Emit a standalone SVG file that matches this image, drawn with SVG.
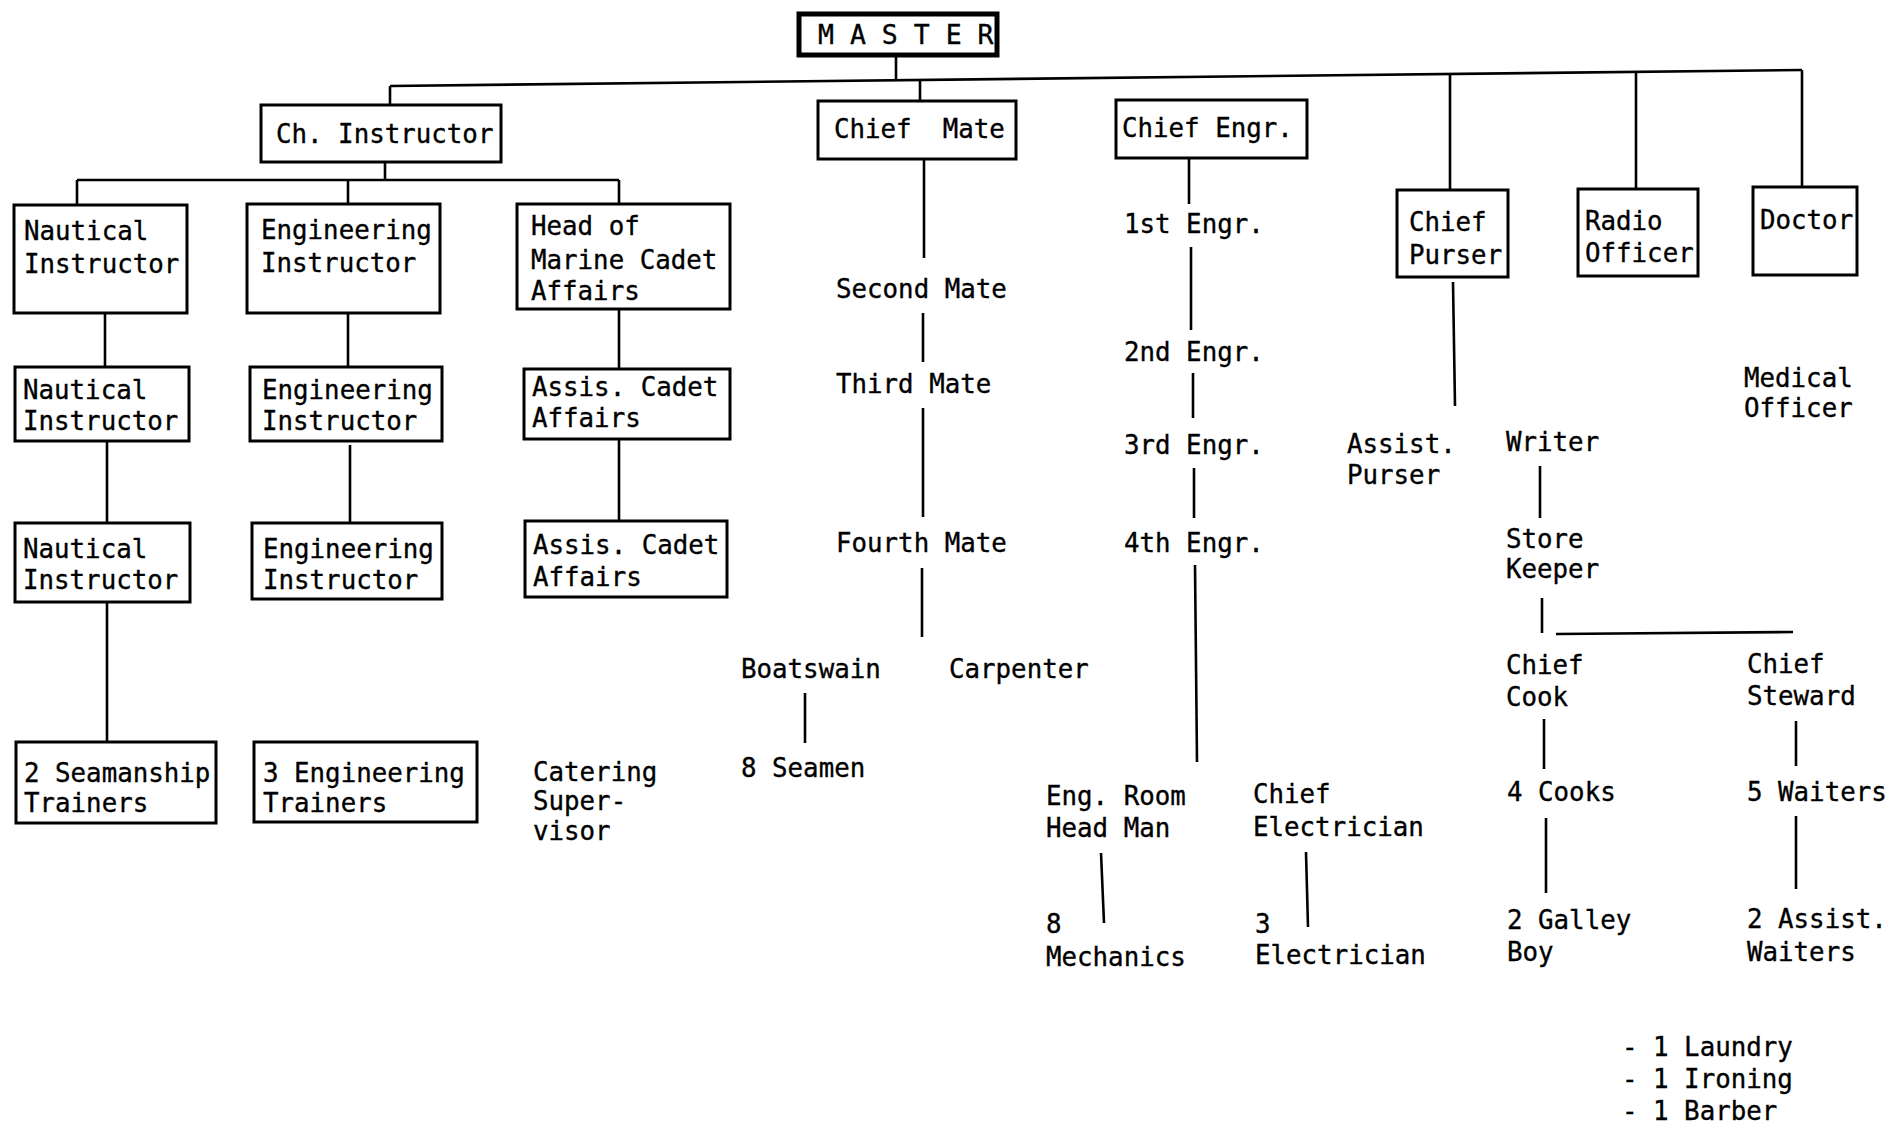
<svg xmlns="http://www.w3.org/2000/svg" width="1894" height="1125" viewBox="0 0 1894 1125">
<style>
text{font-family:"DejaVu Sans Mono","Liberation Mono",monospace;font-size:25.8px;fill:#000;stroke:#000;stroke-width:0.35}
.box{fill:none;stroke:#000;stroke-width:3}
.master{fill:none;stroke:#000;stroke-width:5}
.mt{font-size:26.5px}
#connectors line{stroke:#000;stroke-width:2.6;stroke-linecap:butt}
</style>
<rect width="1894" height="1125" fill="#fff"/>
<g id="connectors">
<line x1="390" y1="86" x2="1802" y2="70"/>
<line x1="390" y1="86" x2="390" y2="105"/>
<line x1="896" y1="57" x2="896" y2="80"/>
<line x1="920" y1="80" x2="920" y2="101"/>
<line x1="1450" y1="74" x2="1450" y2="190"/>
<line x1="1636" y1="72" x2="1636" y2="189"/>
<line x1="1802" y1="70" x2="1802" y2="187"/>
<line x1="385" y1="162" x2="385" y2="180"/>
<line x1="77" y1="180" x2="619" y2="180"/>
<line x1="77" y1="180" x2="77" y2="205"/>
<line x1="348" y1="180" x2="348" y2="204"/>
<line x1="619" y1="180" x2="619" y2="204"/>
<line x1="105" y1="313" x2="105" y2="367"/>
<line x1="348" y1="313" x2="348" y2="367"/>
<line x1="619" y1="309" x2="619" y2="369"/>
<line x1="107" y1="441" x2="107" y2="523"/>
<line x1="350" y1="445" x2="350" y2="523"/>
<line x1="619" y1="439" x2="619" y2="521"/>
<line x1="107" y1="602" x2="107" y2="742"/>
<line x1="924" y1="160" x2="924" y2="258"/>
<line x1="923" y1="313" x2="923" y2="362"/>
<line x1="923" y1="408" x2="923" y2="517"/>
<line x1="922" y1="568" x2="922" y2="637"/>
<line x1="805" y1="693" x2="805" y2="743"/>
<line x1="1189" y1="158" x2="1189" y2="204"/>
<line x1="1191" y1="247" x2="1191" y2="330"/>
<line x1="1193" y1="373" x2="1193" y2="418"/>
<line x1="1194" y1="468" x2="1194" y2="518"/>
<line x1="1195" y1="565" x2="1197" y2="762"/>
<line x1="1101" y1="853" x2="1104" y2="923"/>
<line x1="1306" y1="852" x2="1308" y2="927"/>
<line x1="1453" y1="282" x2="1455" y2="406"/>
<line x1="1540" y1="466" x2="1540" y2="518"/>
<line x1="1542" y1="598" x2="1542" y2="633"/>
<line x1="1556" y1="634" x2="1793" y2="632"/>
<line x1="1544" y1="719" x2="1544" y2="769"/>
<line x1="1546" y1="818" x2="1546" y2="893"/>
<line x1="1796" y1="721" x2="1796" y2="766"/>
<line x1="1796" y1="816" x2="1796" y2="889"/>
</g>
<g id="master"><rect class="master" x="799" y="14" width="198" height="41"/><text class="mt" x="818" y="44">M A S T E R</text></g>
<g id="ch-instructor"><rect class="box" x="261" y="105" width="240" height="57"/><text x="276" y="143">Ch. Instructor</text></g>
<g id="chief-mate"><rect class="box" x="818" y="101" width="198" height="58"/><text x="834" y="138" xml:space="preserve">Chief  Mate</text></g>
<g id="chief-engr"><rect class="box" x="1116" y="100" width="191" height="58"/><text x="1122" y="137">Chief Engr.</text></g>
<g id="chief-purser"><rect class="box" x="1397" y="190" width="111" height="87"/><text x="1409" y="231">Chief</text><text x="1409" y="264">Purser</text></g>
<g id="radio-officer"><rect class="box" x="1578" y="189" width="120" height="87"/><text x="1585" y="230">Radio</text><text x="1585" y="262">Officer</text></g>
<g id="doctor"><rect class="box" x="1753" y="187" width="104" height="88"/><text x="1760" y="229">Doctor</text></g>
<g id="nautical-1"><rect class="box" x="14" y="205" width="173" height="108"/><text x="24" y="240">Nautical</text><text x="24" y="273">Instructor</text></g>
<g id="engineering-1"><rect class="box" x="247" y="204" width="193" height="109"/><text x="261" y="239">Engineering</text><text x="261" y="272">Instructor</text></g>
<g id="head-cadet"><rect class="box" x="517" y="204" width="213" height="105"/><text x="531" y="235">Head of</text><text x="531" y="269">Marine Cadet</text><text x="531" y="300">Affairs</text></g>
<g id="nautical-2"><rect class="box" x="15" y="367" width="174" height="74"/><text x="23" y="399">Nautical</text><text x="23" y="430">Instructor</text></g>
<g id="engineering-2"><rect class="box" x="250" y="367" width="192" height="74"/><text x="262" y="399">Engineering</text><text x="262" y="430">Instructor</text></g>
<g id="assis-cadet-2"><rect class="box" x="524" y="369" width="206" height="70"/><text x="532" y="396">Assis. Cadet</text><text x="532" y="427">Affairs</text></g>
<g id="nautical-3"><rect class="box" x="15" y="523" width="175" height="79"/><text x="23" y="558">Nautical</text><text x="23" y="589">Instructor</text></g>
<g id="engineering-3"><rect class="box" x="252" y="523" width="190" height="76"/><text x="263" y="558">Engineering</text><text x="263" y="589">Instructor</text></g>
<g id="assis-cadet-3"><rect class="box" x="525" y="521" width="202" height="76"/><text x="533" y="554">Assis. Cadet</text><text x="533" y="586">Affairs</text></g>
<g id="seamanship-trainers"><rect class="box" x="16" y="742" width="200" height="81"/><text x="24" y="782">2 Seamanship</text><text x="24" y="812">Trainers</text></g>
<g id="engineering-trainers"><rect class="box" x="254" y="742" width="223" height="80"/><text x="263" y="782">3 Engineering</text><text x="263" y="812">Trainers</text></g>
<g id="catering"><text x="533" y="781">Catering</text><text x="533" y="810">Super-</text><text x="533" y="840">visor</text></g>
<g id="second-mate"><text x="836" y="298">Second Mate</text></g>
<g id="third-mate"><text x="836" y="393">Third Mate</text></g>
<g id="fourth-mate"><text x="836" y="552">Fourth Mate</text></g>
<g id="boatswain"><text x="741" y="678">Boatswain</text></g>
<g id="carpenter"><text x="949" y="678">Carpenter</text></g>
<g id="seamen"><text x="741" y="777">8 Seamen</text></g>
<g id="first-engr"><text x="1124" y="233">1st Engr.</text></g>
<g id="second-engr"><text x="1124" y="361">2nd Engr.</text></g>
<g id="third-engr"><text x="1124" y="454">3rd Engr.</text></g>
<g id="fourth-engr"><text x="1124" y="552">4th Engr.</text></g>
<g id="eng-room"><text x="1046" y="805">Eng. Room</text><text x="1046" y="837">Head Man</text></g>
<g id="mechanics"><text x="1046" y="933">8</text><text x="1046" y="966">Mechanics</text></g>
<g id="chief-electrician"><text x="1253" y="803">Chief</text><text x="1253" y="836">Electrician</text></g>
<g id="electricians"><text x="1255" y="933">3</text><text x="1255" y="964">Electrician</text></g>
<g id="assist-purser"><text x="1347" y="453">Assist.</text><text x="1347" y="484">Purser</text></g>
<g id="writer"><text x="1506" y="451">Writer</text></g>
<g id="store-keeper"><text x="1506" y="548">Store</text><text x="1506" y="578">Keeper</text></g>
<g id="medical-officer"><text x="1744" y="387">Medical</text><text x="1744" y="417">Officer</text></g>
<g id="chief-cook"><text x="1506" y="674">Chief</text><text x="1506" y="706">Cook</text></g>
<g id="chief-steward"><text x="1747" y="673">Chief</text><text x="1747" y="705">Steward</text></g>
<g id="cooks"><text x="1507" y="801">4 Cooks</text></g>
<g id="waiters"><text x="1747" y="801">5 Waiters</text></g>
<g id="galley-boy"><text x="1507" y="929">2 Galley</text><text x="1507" y="961">Boy</text></g>
<g id="assist-waiters"><text x="1747" y="928">2 Assist.</text><text x="1747" y="961">Waiters</text></g>
<g id="extras"><text x="1622" y="1056">- 1 Laundry</text><text x="1622" y="1088">- 1 Ironing</text><text x="1622" y="1120">- 1 Barber</text></g>
</svg>
